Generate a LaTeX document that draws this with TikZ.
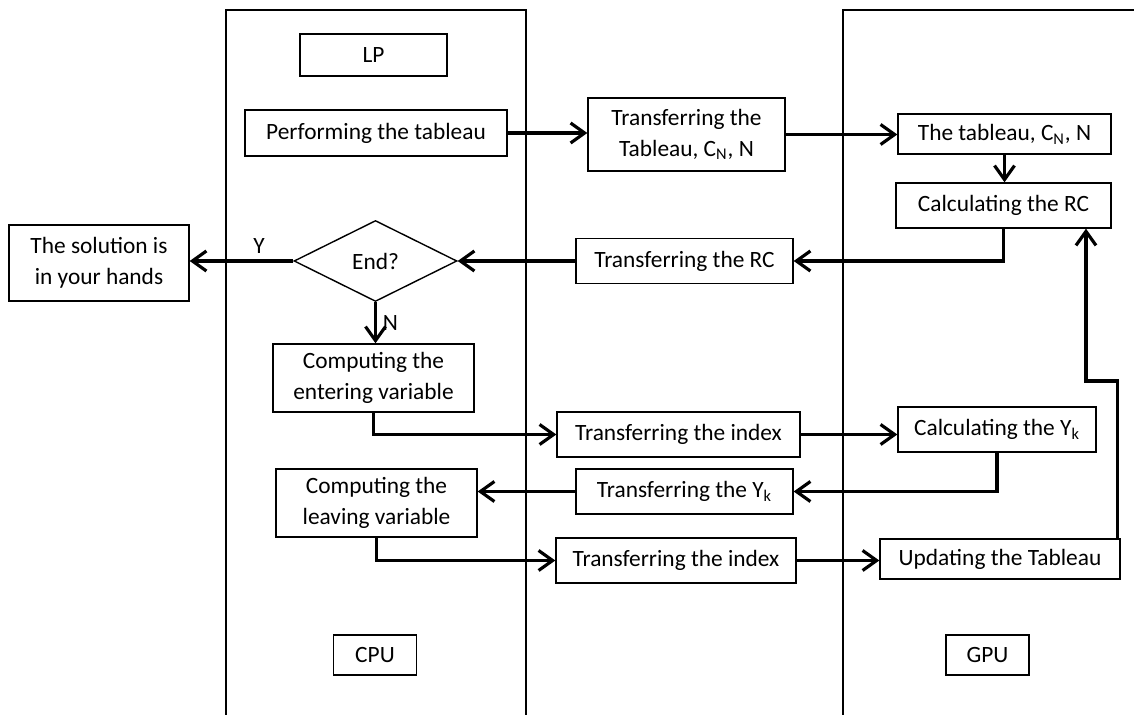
\documentclass[tikz,border=0pt]{standalone}
\usepackage{fontspec}
\setmainfont{Carlito}
\usetikzlibrary{shapes.geometric,arrows.meta}
\begin{document}
\begin{tikzpicture}[x=0.02cm,y=-0.02cm,
  box/.style={draw, line width=0.8pt, align=center, inner sep=0pt, font=\fontsize{13.3}{17.6}\selectfont},
  arr/.style={line width=1.8pt, -{Straight Barb[length=2.8mm,width=4mm]}},
  lbl/.style={font=\fontsize{13.3}{17.6}\selectfont},
  lane/.style={line width=0.7pt}]
\useasboundingbox (0,0) rectangle (1134,715);

    \draw[lane] (226,715) -- (226,10) -- (526,10) -- (526,715);
    \draw[lane] (843,715) -- (843,10) -- (1134,10);

    \node[box, minimum width=2.94cm, minimum height=0.84cm] (lp) at (373.5,55) {LP};
    \node[box, minimum width=5.24cm, minimum height=0.92cm] (perf) at (376,133) {Performing the tableau};
    \node[box, minimum width=3.94cm, minimum height=1.46cm] (trtab) at (686.5,134.5) {Transferring the\\Tableau, C\textsubscript{N}, N};
    \node[box, minimum width=4.26cm, minimum height=0.80cm] (tab) at (1004.5,134) {The tableau, C\textsubscript{N}, N};
    \node[box, minimum width=4.30cm, minimum height=0.90cm] (rc) at (1003.5,205.5) {Calculating the RC};
    \node[box, minimum width=4.34cm, minimum height=0.90cm] (trrc) at (684.5,261) {Transferring the RC};
    \node[box, diamond, aspect=2, minimum width=3.26cm, minimum height=1.62cm] (end) at (375.5,261) {End?};
    \node[box, minimum width=3.60cm, minimum height=1.52cm] (sol) at (99,263) {The solution is\\in your hands};
    \node[box, minimum width=4.02cm, minimum height=1.36cm] (ent) at (373.5,378) {Computing the\\entering variable};
    \node[box, minimum width=4.86cm, minimum height=0.90cm] (idx1) at (678.5,434.5) {Transferring the index};
    \node[box, minimum width=3.96cm, minimum height=0.90cm] (yk) at (997,429.5) {Calculating the Y\textsubscript{k}};
    \node[box, minimum width=4.34cm, minimum height=0.90cm] (tryk) at (684.5,491.5) {Transferring the Y\textsubscript{k}};
    \node[box, minimum width=4.02cm, minimum height=1.36cm] (leave) at (376.5,503) {Computing the\\leaving variable};
    \node[box, minimum width=4.80cm, minimum height=0.90cm] (idx2) at (676,560.5) {Transferring the index};
    \node[box, minimum width=4.80cm, minimum height=0.80cm] (upd) at (1000,559) {Updating the Tableau};
    \node[box, minimum width=1.66cm, minimum height=0.80cm] (cpu) at (375,655) {CPU};
    \node[box, minimum width=1.66cm, minimum height=0.80cm] (gpu) at (987.5,655) {GPU};

    \draw[arr] (perf.east) -- (perf.east -| trtab.west);
    \draw[arr] (trtab.east) -- (trtab.east -| tab.west);
    \draw[arr] (tab.south) -- (tab.south |- rc.north);
    \draw[arr] (rc.south) |- (trrc.east);
    \draw[arr] (trrc.west) -- (end.east);
    \draw[arr] (end.west) -- (end.west -| sol.east) node[lbl, pos=0.33, above] {Y};
    \draw[arr] (end.south) -- (end.south |- ent.north) node[lbl, midway, right] {N};
    \draw[arr] (ent.south) |- (idx1.west);
    \draw[arr] (idx1.east) -- (idx1.east -| yk.west);
    \draw[arr] (yk.south) |- (tryk.east);
    \draw[arr] (tryk.west) -- (tryk.west -| leave.east);
    \draw[arr] (leave.south) |- (idx2.west);
    \draw[arr] (idx2.east) -- (idx2.east -| upd.west);
    \coordinate (back) at (1086,381);
    \draw[arr] ([xshift=-0.06cm]upd.north east) |- (back) -- (back |- rc.south);
\end{tikzpicture}
\end{document}
